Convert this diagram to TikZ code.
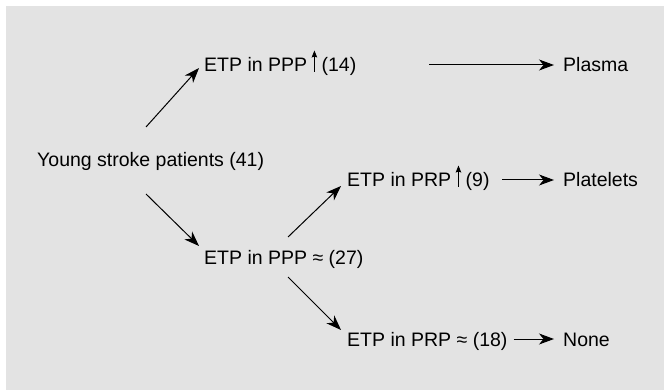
\documentclass[tikz,border=0pt]{standalone}
\usepackage{fontspec}
\setmainfont{Liberation Sans}
\usetikzlibrary{arrows.meta}
\definecolor{bggrey}{RGB}{227,227,227}
\newcommand{\uparr}{\hspace{4.5pt}\tikz[x=1pt,y=1pt,baseline=0pt]{\draw[line width=0.8pt,-{Stealth[length=7pt,width=5.5pt,inset=1pt]}] (3,0) -- (3,21.5);}\hspace{4.5pt}}
\begin{document}
\begin{tikzpicture}[x=1pt,y=-1pt,
  lbl/.style={anchor=base west,inner sep=0pt,font=\fontsize{19.5}{23}\selectfont},
  arr/.style={line width=1pt,-{Stealth[length=15pt,width=11pt,inset=4.5pt]}}]
\useasboundingbox (0,0) rectangle (664,390);
\fill[bggrey] (6,6) rectangle (664,390);
\node[lbl] (young) at (37,167) {Young stroke patients (41)};
\node[lbl] (ppp1) at (204,72) {ETP in PPP\uparr(14)};
\node[lbl] (prp1) at (347,187) {ETP in PRP\uparr(9)};
\node[lbl] (ppp2) at (204,264) {ETP in PPP ≈ (27)};
\node[lbl] (prp2) at (347,346) {ETP in PRP ≈ (18)};
\node[lbl] (plasma) at (563,72) {Plasma};
\node[lbl] (platelets) at (563,187) {Platelets};
\node[lbl] (none) at (563,346) {None};
\draw[arr] ([shift={(109,-40)}]young.base west) -- ([shift={(-5,-4)}]ppp1.base west);
\draw[arr] ([shift={(109,27)}]young.base west) -- ([shift={(-5,-18)}]ppp2.base west);
\draw[arr] ([shift={(84,-27)}]ppp2.base west) -- ([shift={(-6,-1)}]prp1.base west);
\draw[arr] ([shift={(84,13)}]ppp2.base west) -- ([shift={(-6,-16)}]prp2.base west);
\draw[arr] ([shift={(225,-7)}]ppp1.base west) -- ([shift={(-9,-7)}]plasma.base west);
\draw[arr] ([shift={(155,-7)}]prp1.base west) -- ([shift={(-9,-7)}]platelets.base west);
\draw[arr] ([shift={(6,-7)}]prp2.base east) -- ([shift={(-9,-7)}]none.base west);
\end{tikzpicture}
\end{document}
